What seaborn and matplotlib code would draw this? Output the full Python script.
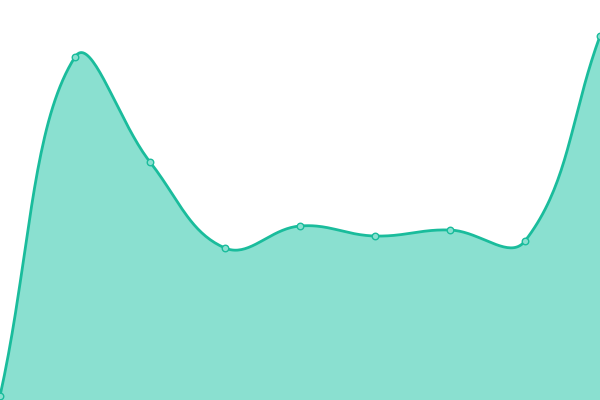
import numpy as np
import pandas as pd
import seaborn as sns
import matplotlib.pyplot as plt

labels = ['0', '1', '2', '3', '4', '5', '6', '7', '8']
values = [4, 343, 238, 152, 174, 164, 170, 159, 364]

LINE = '#1abc9c'
FILL = '#8ae0d0'


def spline_path(xs, ys, tension=0.4, steps=40):
    # chart.js style bezier between points (in pixel-ish space)
    n = len(xs)
    pts = np.column_stack([xs, ys]).astype(float)
    ctrl = []
    for i in range(n):
        p0 = pts[max(i - 1, 0)]
        p1 = pts[i]
        p2 = pts[min(i + 1, n - 1)]
        d01 = np.hypot(*(p1 - p0))
        d12 = np.hypot(*(p2 - p1))
        tot = d01 + d12
        s01 = d01 / tot if tot else 0
        s12 = d12 / tot if tot else 0
        prev = p1 - tension * s01 * (p2 - p0)
        nxt = p1 + tension * s12 * (p2 - p0)
        ctrl.append((prev, nxt))
    out = []
    t = np.linspace(0, 1, steps)[:, None]
    for i in range(n - 1):
        a, b = pts[i], pts[i + 1]
        c1, c2 = ctrl[i][1], ctrl[i + 1][0]
        seg = (1 - t) ** 3 * a + 3 * (1 - t) ** 2 * t * c1 + 3 * (1 - t) * t ** 2 * c2 + t ** 3 * b
        out.append(seg if i == 0 else seg[1:])
    out = np.vstack(out)
    return out[:, 0], out[:, 1]


df = pd.DataFrame({'idx': np.arange(len(labels)), 'value': values})

sns.set_style('white')
fig = plt.figure(figsize=(6, 4), dpi=100)
ax = fig.add_axes([0, 0, 1, 1])

step = 600 / (len(labels) - 1)
cx, cy = spline_path(df['idx'] * step, df['value'])
cx = cx / step

ax.fill_between(cx, cy, 0, color=FILL, linewidth=0)
ax.plot(cx, cy, color=LINE, linewidth=2.0, solid_capstyle='round')
sns.scatterplot(data=df, x='idx', y='value', ax=ax, s=22, color='#8ae0d0',
                edgecolor=LINE, linewidth=1, zorder=5, legend=False)

ax.set_xlim(0, len(labels) - 1)
ax.set_ylim(0, 400)
ax.axis('off')

plt.savefig('out.png', dpi=100)
